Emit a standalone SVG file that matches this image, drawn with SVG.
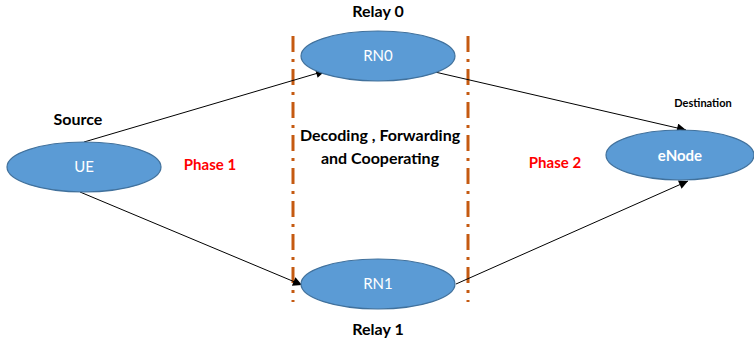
<svg xmlns="http://www.w3.org/2000/svg" width="754" height="345" viewBox="0 0 754 345">
<defs>
<marker id="arr" viewBox="0 0 10 10" refX="10" refY="5" markerWidth="10" markerHeight="9" orient="auto-start-reverse" markerUnits="userSpaceOnUse">
<path d="M0,0 L10,5 L0,10 z" fill="#000"/>
</marker>
<style>
.node{fill:#5B9BD5;stroke:#41719C;stroke-width:1.2}
.nt{font-family:"Lato","Liberation Sans",sans-serif;font-size:15px;fill:#fff;text-anchor:middle}
.lb{font-family:"Lato","Liberation Sans",sans-serif;font-size:16px;font-weight:bold;fill:#000;text-anchor:middle}
.ph{font-family:"Lato","Liberation Sans",sans-serif;font-size:15px;font-weight:bold;fill:#FF0000;text-anchor:middle}
.conn{stroke:#000;stroke-width:1;fill:none;marker-end:url(#arr)}
.div{stroke:#C55A11;stroke-width:3;stroke-dasharray:16 7 3 7;fill:none}
</style>
</defs>
<rect width="754" height="345" fill="#fff"/>
<g id="dividers">
<line class="div" x1="293" y1="36" x2="293" y2="302"/>
<line class="div" x1="468" y1="36" x2="468" y2="302"/>
</g>
<g id="connectors">
<line class="conn" x1="84" y1="142" x2="325" y2="71"/>
<line class="conn" x1="80" y1="192" x2="302" y2="285"/>
<line class="conn" x1="435" y1="72" x2="686" y2="130"/>
<line class="conn" x1="456" y1="284" x2="688" y2="181"/>
</g>
<g id="UE">
<ellipse class="node" cx="84" cy="167" rx="77" ry="25"/>
<text class="nt" x="84" y="172">UE</text>
<text class="lb" x="78" y="125">Source</text>
</g>
<g id="RN0">
<ellipse class="node" cx="378" cy="56" rx="77" ry="25"/>
<text class="nt" x="378" y="61">RN0</text>
<text class="lb" x="378" y="17">Relay 0</text>
</g>
<g id="RN1">
<ellipse class="node" cx="378" cy="284" rx="77" ry="25"/>
<text class="nt" x="378" y="289">RN1</text>
<text class="lb" x="378" y="335">Relay 1</text>
</g>
<g id="eNode">
<ellipse class="node" cx="680" cy="155" rx="74" ry="25"/>
<text class="nt" x="680" y="161" font-weight="bold">eNode</text>
<text class="lb" x="703" y="107" style="font-size:11px">Destination</text>
</g>
<g id="labels">
<text class="ph" x="210" y="170">Phase 1</text>
<text class="ph" x="555" y="168">Phase 2</text>
<text class="lb" x="380" y="141">Decoding , Forwarding</text>
<text class="lb" x="380" y="164">and Cooperating</text>
</g>
</svg>
